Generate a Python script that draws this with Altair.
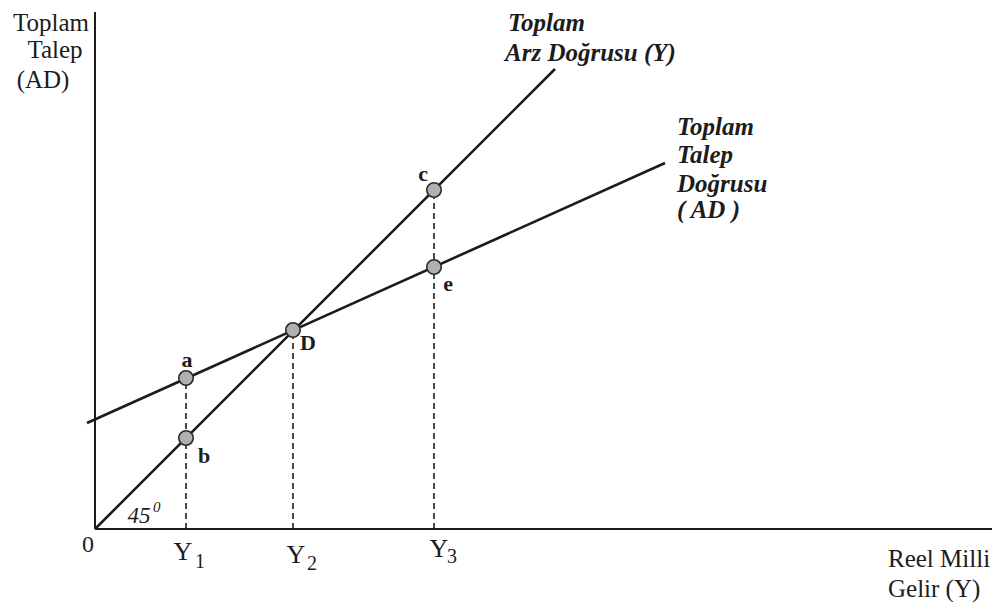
import altair as alt
import pandas as pd

# ---- data (economic units; 1 unit ~ 1 px in the reference) ----
supply_x = [0, 460]
supply_y = [0, 460]
demand_x = [-8, 570]
demand_y = [106, 366]

pt_names = ["a", "b", "D", "c", "e"]
pt_x = [91, 91, 198, 339, 339]
pt_y = [151, 91, 199, 339, 262]

lab_x = [92, 109, 213, 328, 353]
lab_y = [169, 73, 186, 355, 245]

tick_names = ["1", "2", "3"]
tick_x = [91, 198, 339]
tick_top = [151, 199, 339]

FONT = "Liberation Serif"
INK = "#1c1c1c"

xs = alt.Scale(domain=[-87, 897], nice=False, zero=False)
ys = alt.Scale(domain=[-73, 521], nice=False, zero=False)
X = lambda f: alt.X(f, type="quantitative", scale=xs, axis=None)
Y = lambda f: alt.Y(f, type="quantitative", scale=ys, axis=None)

# axes
axes_df = pd.DataFrame({"x": [0, 0], "y": [0, 0], "x2": [0, 905], "y2": [517, 0]})
axes = alt.Chart(axes_df).mark_rule(color=INK, strokeWidth=2).encode(
    x=X("x"), y=Y("y"), x2="x2", y2="y2")

supply = alt.Chart(pd.DataFrame({"x": supply_x, "y": supply_y})).mark_line(
    color=INK, strokeWidth=2.6).encode(x=X("x"), y=Y("y"))
demand = alt.Chart(pd.DataFrame({"x": demand_x, "y": demand_y})).mark_line(
    color=INK, strokeWidth=2.6).encode(x=X("x"), y=Y("y"))

dash_df = pd.DataFrame({"x": tick_x, "y": [0] * 3, "y2": tick_top})
dashes = alt.Chart(dash_df).mark_rule(color=INK, strokeWidth=1.6, strokeDash=[6, 4]).encode(
    x=X("x"), y=Y("y"), y2="y2")

pts_df = pd.DataFrame({"x": pt_x, "y": pt_y, "n": pt_names})
points = alt.Chart(pts_df).mark_point(
    shape="circle", size=210, filled=True, fill="#b0b0b0", stroke="#2a2a2a",
    strokeWidth=1.6, opacity=1).encode(x=X("x"), y=Y("y"))

lab_df = pd.DataFrame({"x": lab_x, "y": lab_y, "n": pt_names})
labels = alt.Chart(lab_df).mark_text(
    font=FONT, fontSize=22, fontWeight="bold", color=INK, align="center", baseline="middle"
).encode(x=X("x"), y=Y("y"), text="n")


def txt(items, size=22, style="normal", weight="normal", align="left"):
    df = pd.DataFrame(items, columns=["x", "y", "t"])
    return alt.Chart(df).mark_text(
        font=FONT, fontSize=size, fontStyle=style, fontWeight=weight, color=INK,
        align=align, baseline="alphabetic").encode(x=X("x"), y=Y("y"), text="t")


ytitle = txt([(-44, 498, "Toplam"), (-40, 471, "Talep"), (-52, 441, "(AD)")], size=25, align="center")
xtitle = txt([(793, -38, "Reel Milli"), (793, -68, "Gelir (Y)")], size=25)
sup_lab = txt([(413, 498, "Toplam"), (410, 468, "Arz Doğrusu (Y)")], size=25, style="italic", weight="bold")
dem_lab = txt([(582, 394, "Toplam"), (582, 366, "Talep"), (582, 337, "Doğrusu"), (582, 311, "( AD )")],
              size=25, style="italic", weight="bold")

zero_lab = txt([(-7, -23, "0")], size=24, align="center")
angle_lab = txt([(44, 6, "45")], size=23, style="italic", align="center")
angle_sup = txt([(58, 17, "0")], size=15, style="italic", align="left")

y_cx = [88, 201, 344]
y_base = [-31, -34, -28]
s_x = [100, 212, 352]
s_base = [-39, -41, -34]
ys_lab = txt([(x, b, "Y") for x, b in zip(y_cx, y_base)], size=26, align="center")
sub_lab = txt([(x, b, n) for x, b, n in zip(s_x, s_base, tick_names)], size=20, align="left")

chart = alt.layer(
    axes, dashes, supply, demand, points, labels,
    ytitle, xtitle, sup_lab, dem_lab, zero_lab, angle_lab, angle_sup, ys_lab, sub_lab
).properties(
    width=984, height=594, autosize=alt.AutoSizeParams(type="none"), padding=0,
    background="white"
).configure_view(stroke=None)

chart.save("out.html", embed_options={"renderer": "svg", "actions": False})
